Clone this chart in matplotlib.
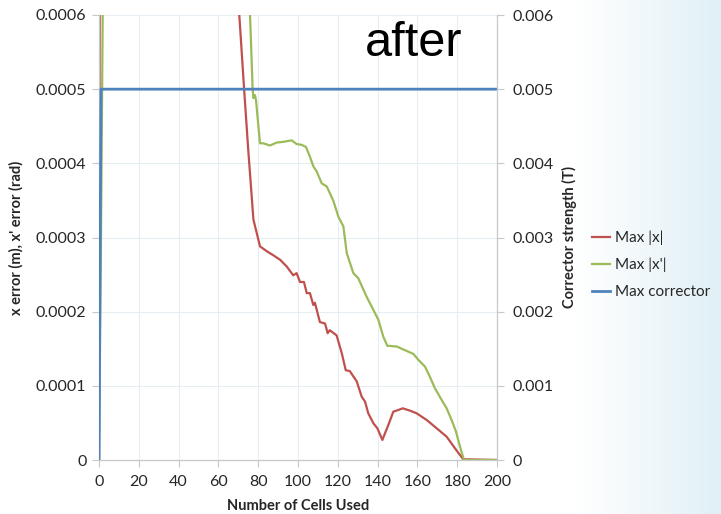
import matplotlib.pyplot as plt
import numpy as np

# data
red_x = [0, 1, 40, 70.5, 72.9, 75.0, 77.6, 78.9, 80.9, 84.6, 87.6, 91.0, 94.3, 97.6, 99.3,
         101, 103, 104.4, 106, 107.7, 108.5, 111, 113.6, 114.9, 116, 119.4, 122, 124, 126,
         129.5, 132, 133.7, 135.3, 137.9, 139.9, 142.4, 143.7, 145.4, 147.9, 150.4, 152.6,
         156.3, 159.6, 164.7, 169.7, 174.7, 178.9, 183, 200]
red_y = [0, 0.0016, 0.0011, 0.0006, 0.000501, 0.000418, 0.000324, 0.00031, 0.000288,
         0.000281, 0.000276, 0.00027, 0.000261, 0.000249, 0.000252, 0.00024, 0.00024,
         0.000225, 0.000225, 0.000209, 0.000212, 0.000186, 0.000184, 0.000171, 0.000175,
         0.000168, 0.000144, 0.000121, 0.00012, 0.000106, 0.0000854, 0.0000787, 0.000063,
         0.0000494, 0.0000427, 0.000027, 0.0000359, 0.0000472, 0.0000652, 0.0000674,
         0.0000697, 0.0000665, 0.000063, 0.0000539, 0.0000427, 0.0000314, 0.0000157,
         0.000001, 0]

green_x = [0, 1, 2, 3, 40, 75.9, 77.2, 77.6, 78.4, 78.9, 80.9, 82.6, 85.9, 89.3, 92.6, 96.8,
           99.3, 101.8, 104, 106, 107.7, 109.4, 111.9, 114.4, 117.7, 120.3, 122.8, 124.5,
           127.8, 130.3, 134.5, 137, 140.4, 142.9, 144.9, 149.6, 153.8, 158, 160.5, 163.8,
           166.3, 168.8, 172.2, 174.7, 177.2, 179.4, 181.4, 183.4, 200]
green_y = [0, 0.0003, 0.00065, 0.0012, 0.0012, 0.0006, 0.0005, 0.000488, 0.000492,
           0.000485, 0.000427, 0.000427, 0.000424, 0.000428, 0.000429, 0.000431, 0.000426,
           0.000425, 0.000422, 0.000409, 0.000396, 0.000389, 0.000373, 0.000369, 0.00035,
           0.000328, 0.000315, 0.000279, 0.000252, 0.000245, 0.00022, 0.000207, 0.000189,
           0.000166, 0.000154, 0.000153, 0.000148, 0.000143, 0.000135, 0.000126, 0.000112,
           0.0000967, 0.0000809, 0.0000697, 0.0000539, 0.0000382, 0.000018, 0, 0]

corr_x = [0, 1, 200]
corr_y = [0, 0.005, 0.005]

x_ticks = list(range(0, 201, 20))
left_ticks = [0, 0.0001, 0.0002, 0.0003, 0.0004, 0.0005, 0.0006]
left_labels = ["0", "0.0001", "0.0002", "0.0003", "0.0004", "0.0005", "0.0006"]
right_ticks = [0, 0.001, 0.002, 0.003, 0.004, 0.005, 0.006]
right_labels = ["0", "0.001", "0.002", "0.003", "0.004", "0.005", "0.006"]

plt.rcParams["font.family"] = ["Lato", "DejaVu Sans"]
txt = "#262626"
grey = "#c8c8c8"

fig = plt.figure(figsize=(7.21, 5.14), dpi=100)

# slide background: white fading to pale blue on the right
bg = fig.add_axes([0, 0, 1, 1], zorder=-10)
grad = np.clip((np.linspace(0, 1, 721) - 0.8) / 0.2, 0, 1)
img = np.ones((1, 721, 3))
img[0, :, 0] = 1 - grad * (1 - 0.88)
img[0, :, 1] = 1 - grad * (1 - 0.94)
img[0, :, 2] = 1 - grad * (1 - 0.965)
bg.imshow(img, aspect="auto", extent=[0, 1, 0, 1])
bg.axis("off")

ax = fig.add_axes([99 / 721, 54 / 514, 398 / 721, 445 / 514])
ax.patch.set_facecolor("white")
ax2 = ax.twinx()

l1, = ax.plot(red_x, red_y, color="#c0504d", lw=1.6, label="Max |x|")
l2, = ax.plot(green_x, green_y, color="#9bbb59", lw=1.6, label="Max |x'|")
l3, = ax2.plot(corr_x, corr_y, color="#4f81bd", lw=2, label="Max corrector")

ax.set_xlim(0, 200)
ax.set_ylim(0, 0.0006)
ax2.set_ylim(0, 0.006)
ax.set_xticks(x_ticks)
ax.set_yticks(left_ticks)
ax.set_yticklabels(left_labels)
ax2.set_yticks(right_ticks)
ax2.set_yticklabels(right_labels)
ax.grid(True, color="#e6eef4", lw=0.8)
ax.set_axisbelow(True)

for a in (ax, ax2):
    for s in a.spines.values():
        s.set_visible(False)
    a.tick_params(colors=grey, labelcolor=txt, labelsize=11.5, length=5, width=0.8)
ax.spines["left"].set_visible(True)
ax.spines["bottom"].set_visible(True)
ax2.spines["right"].set_visible(True)
for s in (ax.spines["left"], ax.spines["bottom"], ax2.spines["right"]):
    s.set_color(grey)
    s.set_linewidth(0.9)
ax.tick_params(axis="y", pad=4)
ax.tick_params(axis="x", pad=6)
ax2.tick_params(axis="y", pad=6)

ax.set_xlabel("Number of Cells Used", fontsize=10.5, fontweight="bold", color=txt, labelpad=7)
ax.set_ylabel("x error (m), x' error (rad)", fontsize=10.5, fontweight="bold", color=txt, labelpad=9)
ax2.set_ylabel("Corrector strength (T)", fontsize=10.5, fontweight="bold", color=txt, labelpad=6)

fig.text(414 / 721, 1 - 43 / 514, "after", fontsize=35, family="Liberation Sans",
         ha="center", va="center", color="black")

fig.legend(handles=[l1, l2, l3], loc="center left", bbox_to_anchor=(592 / 721, 1 - 265 / 514),
           frameon=False, fontsize=11, handlelength=1.2, handletextpad=0.3,
           labelspacing=0.85, labelcolor=txt, borderpad=0, borderaxespad=0)

fig.savefig("out.png", dpi=100)
